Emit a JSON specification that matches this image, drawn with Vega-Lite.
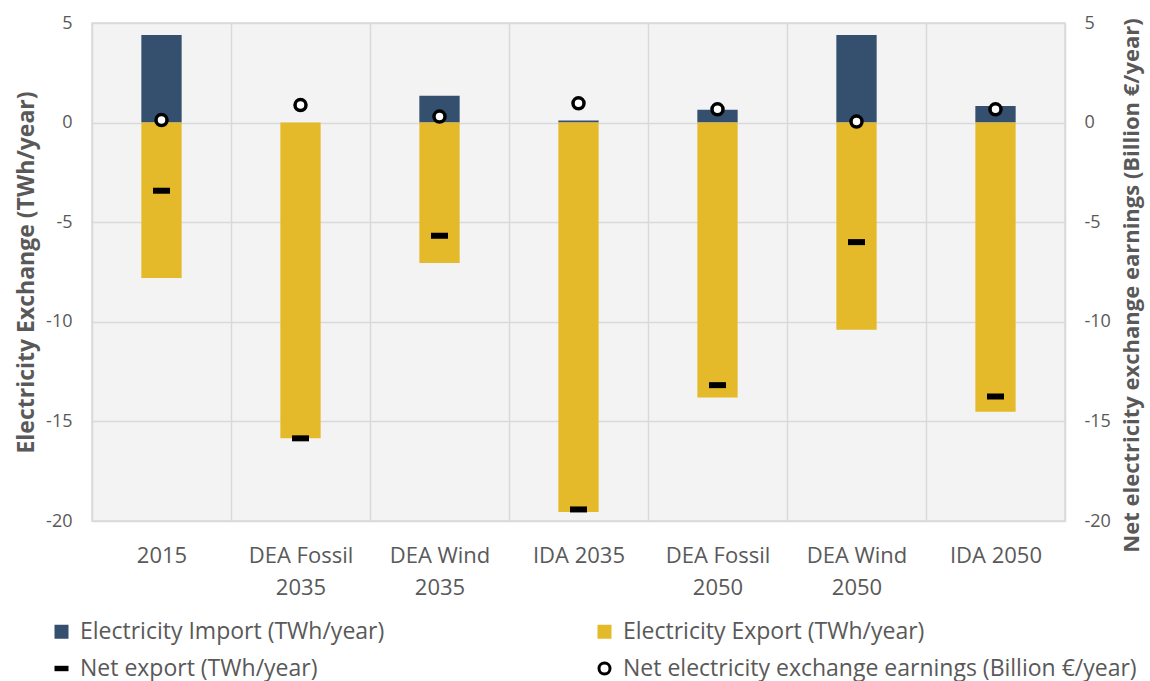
{
  "$schema": "https://vega.github.io/schema/vega-lite/v6.json",
  "width": 973,
  "height": 498,
  "autosize": {"type": "none"},
  "padding": {"left": 92, "top": 23, "right": 85, "bottom": 160},
  "background": "#ffffff",
  "config": {
    "font": "Open Sans",
    "view": {"fill": "#f3f3f3", "stroke": "#d9d9d9", "strokeWidth": 1.5},
    "axis": {"labelColor": "#595959", "titleColor": "#595959", "labelFont": "Open Sans", "titleFont": "Open Sans"},
    "legend": {"labelFont": "Open Sans", "labelColor": "#595959", "labelFontSize": 23, "symbolStrokeWidth": 3}
  },
  "data": {
    "values": [
      {"cat": "2015", "series": "Electricity Import (TWh/year)", "value": 4.4},
      {"cat": "DEA Fossil 2035", "series": "Electricity Import (TWh/year)", "value": 0},
      {"cat": "DEA Wind 2035", "series": "Electricity Import (TWh/year)", "value": 1.35},
      {"cat": "IDA 2035", "series": "Electricity Import (TWh/year)", "value": 0.1},
      {"cat": "DEA Fossil 2050", "series": "Electricity Import (TWh/year)", "value": 0.65},
      {"cat": "DEA Wind 2050", "series": "Electricity Import (TWh/year)", "value": 4.4},
      {"cat": "IDA 2050", "series": "Electricity Import (TWh/year)", "value": 0.83},
      {"cat": "2015", "series": "Electricity Export (TWh/year)", "value": -7.8},
      {"cat": "DEA Fossil 2035", "series": "Electricity Export (TWh/year)", "value": -15.85},
      {"cat": "DEA Wind 2035", "series": "Electricity Export (TWh/year)", "value": -7.05},
      {"cat": "IDA 2035", "series": "Electricity Export (TWh/year)", "value": -19.55},
      {"cat": "DEA Fossil 2050", "series": "Electricity Export (TWh/year)", "value": -13.8},
      {"cat": "DEA Wind 2050", "series": "Electricity Export (TWh/year)", "value": -10.4},
      {"cat": "IDA 2050", "series": "Electricity Export (TWh/year)", "value": -14.52},
      {"cat": "2015", "series": "Net export (TWh/year)", "value": -3.42},
      {"cat": "DEA Fossil 2035", "series": "Net export (TWh/year)", "value": -15.85},
      {"cat": "DEA Wind 2035", "series": "Net export (TWh/year)", "value": -5.68},
      {"cat": "IDA 2035", "series": "Net export (TWh/year)", "value": -19.42},
      {"cat": "DEA Fossil 2050", "series": "Net export (TWh/year)", "value": -13.18},
      {"cat": "DEA Wind 2050", "series": "Net export (TWh/year)", "value": -6.0},
      {"cat": "IDA 2050", "series": "Net export (TWh/year)", "value": -13.75},
      {"cat": "2015", "series": "Net electricity exchange earnings (Billion €/year)", "value": 0.13},
      {"cat": "DEA Fossil 2035", "series": "Net electricity exchange earnings (Billion €/year)", "value": 0.88},
      {"cat": "DEA Wind 2035", "series": "Net electricity exchange earnings (Billion €/year)", "value": 0.3},
      {"cat": "IDA 2035", "series": "Net electricity exchange earnings (Billion €/year)", "value": 0.97},
      {"cat": "DEA Fossil 2050", "series": "Net electricity exchange earnings (Billion €/year)", "value": 0.67},
      {"cat": "DEA Wind 2050", "series": "Net electricity exchange earnings (Billion €/year)", "value": 0.05},
      {"cat": "IDA 2050", "series": "Net electricity exchange earnings (Billion €/year)", "value": 0.67}
    ]
  },
  "encoding": {
    "x": {
      "field": "cat", "type": "nominal", "sort": null,
      "scale": {"paddingInner": 0, "paddingOuter": 0},
      "axis": {
        "title": null, "labelAngle": 0, "labelFontSize": 22, "labelPadding": 24,
        "labelLineHeight": 32, "labelBaseline": "top",
        "domain": false, "ticks": false, "grid": true, "tickBand": "extent",
        "gridColor": "#d9d9d9", "gridWidth": 1.5,
        "labelExpr": "indexof(datum.label, 'DEA') == 0 ? [slice(datum.label, 0, lastindexof(datum.label, ' ')), slice(datum.label, lastindexof(datum.label, ' ') + 1)] : datum.label"
      }
    }
  },
  "layer": [
    {
      "layer": [
        {
          "transform": [{"filter": "indexof(datum.series, 'Electricity') == 0"}],
          "mark": {"type": "bar", "width": {"band": 0.29}},
          "encoding": {
            "y": {
              "field": "value", "type": "quantitative",
              "scale": {"domain": [-20, 5], "nice": false, "zero": false},
              "axis": {
                "title": "Electricity Exchange (TWh/year)", "values": [-20, -15, -10, -5, 0, 5],
                "labelExpr": "toString(datum.value)",
                "labelFontSize": 18, "labelPadding": 20, "titleFontSize": 23, "titleFontWeight": "bold",
                "titlePadding": 7, "domain": false, "ticks": false, "grid": true,
                "gridColor": "#d9d9d9", "gridWidth": 1.5
              }
            },
            "color": {
              "field": "series", "type": "nominal",
              "scale": {
                "domain": ["Electricity Import (TWh/year)", "Electricity Export (TWh/year)", "Net export (TWh/year)", "Net electricity exchange earnings (Billion €/year)"],
                "range": ["#34506e", "#e5ba2a", "#000000", "#ffffff"]
              },
              "legend": {
                "title": null, "orient": "none", "legendX": -42, "legendY": 597,
                "columns": 2, "direction": "horizontal", "columnPadding": 208, "rowPadding": 13,
                "labelFontSize": 23, "labelColor": "#595959", "labelFont": "Open Sans", "labelLimit": 700,
                "labelOffset": 7, "padding": 0, "symbolStrokeWidth": 3
              }
            }
          }
        },
        {
          "transform": [{"filter": "datum.series == 'Net export (TWh/year)'"}],
          "mark": {"type": "tick", "thickness": 6, "size": 17, "color": "#000000", "opacity": 1},
          "encoding": {
            "y": {"field": "value", "type": "quantitative"}
          }
        }
      ]
    },
    {
      "transform": [{"filter": "indexof(datum.series, 'earnings') > 0"}],
      "mark": {"type": "point", "filled": true, "strokeWidth": 3.5, "opacity": 1},
      "encoding": {
        "y": {
          "field": "value", "type": "quantitative",
          "scale": {"domain": [-20, 5], "nice": false, "zero": false},
          "axis": {
            "orient": "right", "title": "Net electricity exchange earnings (Billion €/year)",
            "values": [-20, -15, -10, -5, 0, 5], "labelExpr": "toString(datum.value)",
            "labelFontSize": 18, "labelPadding": 19,
            "titleFontSize": 22, "titleFontWeight": "bold", "titleAngle": 270, "titleBaseline": "top",
            "titlePadding": 11, "titleY": 262, "domain": false, "ticks": false, "grid": false
          }
        },
        "color": {"field": "series", "type": "nominal"},
        "shape": {
          "field": "series", "type": "nominal",
          "scale": {
            "domain": ["Electricity Import (TWh/year)", "Electricity Export (TWh/year)", "Net export (TWh/year)", "Net electricity exchange earnings (Billion €/year)"],
            "range": ["square", "square", "M-1,-0.22L1,-0.22L1,0.22L-1,0.22Z", "circle"]
          },
          "legend": {"title": null}
        },
        "stroke": {
          "field": "series", "type": "nominal",
          "scale": {
            "domain": ["Electricity Import (TWh/year)", "Electricity Export (TWh/year)", "Net export (TWh/year)", "Net electricity exchange earnings (Billion €/year)"],
            "range": ["#34506e", "#e5ba2a", "#000000", "#000000"]
          },
          "legend": {"title": null}
        },
        "size": {
          "field": "series", "type": "nominal",
          "scale": {
            "domain": ["Electricity Import (TWh/year)", "Electricity Export (TWh/year)", "Net export (TWh/year)", "Net electricity exchange earnings (Billion €/year)"],
            "range": [121, 121, 225, 240]
          },
          "legend": {"title": null}
        }
      }
    }
  ],
  "resolve": {"scale": {"y": "independent"}}
}
